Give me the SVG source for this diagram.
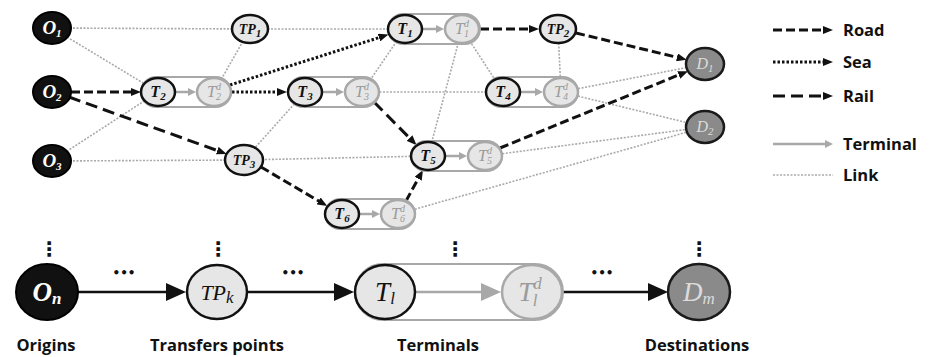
<svg xmlns="http://www.w3.org/2000/svg" width="931" height="357" viewBox="0 0 931 357">
  <style>
    .org { fill: #111; stroke: #000; stroke-width: 2; }
    .nd { fill: #e6e6e6; stroke: #111; stroke-width: 2.5; }
    .ndd { fill: #e6e6e6; stroke: #a8a8a8; stroke-width: 2.5; }
    .dst { fill: #8a8a8a; stroke: #1a1a1a; stroke-width: 2.5; }
    .box { fill: #fff; stroke: #a8a8a8; stroke-width: 2; }
    .lb { font-family: "Liberation Serif", serif; font-style: italic; font-weight: bold; font-size: 16px; fill: #111; text-anchor: middle; }
    .lbd { fill: #9a9a9a; font-weight: normal; }
    .lbw { fill: #fff; font-size: 19px; }
    .lbx { fill: #dcdcdc; font-weight: normal; }
    .tp { font-size: 14px; }
    .sb { font-size: 11px; }
    .sd { font-size: 10px; }
    .big { font-size: 27px; font-weight: normal; }
    .bigw { font-size: 27px; fill: #fff; }
    .tpk { font-size: 22px; font-weight: normal; }
    .bsb { font-size: 17px; }
    .cap { font-family: "Open Sans", "Liberation Sans", sans-serif; font-weight: bold; font-size: 16.5px; fill: #111; }
    .mid { text-anchor: middle; }
    .dots { font-family: "DejaVu Sans", sans-serif; font-weight: bold; fill: #111; text-anchor: middle; }
    .vd { font-size: 20px; }
    .hd { font-size: 12px; }
    .link { stroke: #aaa; stroke-width: 1.6; stroke-dasharray: 2 1.5; fill: none; }
    .road { stroke: #111; stroke-width: 3; stroke-dasharray: 9 4; fill: none; marker-end: url(#ah); }
    .rail { stroke: #111; stroke-width: 3; stroke-dasharray: 12 6; fill: none; marker-end: url(#ah); }
    .sea { stroke: #111; stroke-width: 3; stroke-dasharray: 2.5 2; fill: none; marker-end: url(#ah); }
    .term { stroke: #a8a8a8; stroke-width: 2.5; fill: none; marker-end: url(#ahg); }
    .flow { stroke: #111; stroke-width: 2.5; fill: none; marker-end: url(#ahb); }
    .flowg { stroke: #a8a8a8; stroke-width: 2.5; fill: none; marker-end: url(#ahbg); }
  </style>
  <defs>
    <marker id="ah" viewBox="0 0 10 8" refX="3" refY="4" markerWidth="10" markerHeight="8" markerUnits="userSpaceOnUse" orient="auto">
      <path d="M0,0L10,4L0,8z" fill="#111"/>
    </marker>
    <marker id="ahg" viewBox="0 0 8 8" refX="3" refY="4" markerWidth="8" markerHeight="8" markerUnits="userSpaceOnUse" orient="auto">
      <path d="M0,0L8,4L0,8z" fill="#a8a8a8"/>
    </marker>
    <marker id="ahb" viewBox="0 0 20 18" refX="3" refY="9" markerWidth="20" markerHeight="18" markerUnits="userSpaceOnUse" orient="auto">
      <path d="M0,0L20,9L0,18z" fill="#111"/>
    </marker>
    <marker id="ahbg" viewBox="0 0 20 18" refX="3" refY="9" markerWidth="20" markerHeight="18" markerUnits="userSpaceOnUse" orient="auto">
      <path d="M0,0L20,9L0,18z" fill="#a8a8a8"/>
    </marker>
  </defs>
  <rect width="931" height="357" fill="#fff"/>

  <!-- connectors -->
  <g id="connectors">
    <!-- plain links -->
    <line class="link" x1="52" y1="28" x2="250" y2="29"/>
    <line class="link" x1="250" y1="29" x2="405" y2="29"/>
    <line class="link" x1="52" y1="28" x2="158" y2="92"/>
    <line class="link" x1="52" y1="161" x2="158" y2="92"/>
    <line class="link" x1="52" y1="161" x2="244" y2="160"/>
    <line class="link" x1="244" y1="160" x2="428" y2="156"/>
    <line class="link" x1="250" y1="29" x2="214" y2="92"/>
    <line class="link" x1="244" y1="160" x2="305" y2="92"/>
    <line class="link" x1="362" y1="92" x2="405" y2="29"/>
    <line class="link" x1="362" y1="92" x2="503" y2="92"/>
    <line class="link" x1="462" y1="29" x2="503" y2="92"/>
    <line class="link" x1="462" y1="29" x2="428" y2="156"/>
    <line class="link" x1="558" y1="29" x2="561" y2="92"/>
    <line class="link" x1="561" y1="92" x2="705" y2="64"/>
    <line class="link" x1="561" y1="92" x2="705" y2="127"/>
    <line class="link" x1="485" y1="156" x2="705" y2="127"/>
    <line class="link" x1="398" y1="214" x2="705" y2="127"/>

    <!-- transport legs -->
    <line class="road" x1="71" y1="92" x2="134" y2="92"/>
    <line class="rail" x1="69" y1="97" x2="220.1" y2="151.6"/>
    <line class="road" x1="261" y1="167" x2="321.2" y2="202.5"/>
    <line class="road" x1="406" y1="201" x2="419.6" y2="176.1"/>
    <line class="rail" x1="374" y1="102" x2="411.7" y2="140.2"/>
    <line class="sea" x1="232" y1="92" x2="280" y2="92"/>
    <line class="sea" x1="230" y1="85" x2="381.8" y2="36.7"/>
    <line class="road" x1="480" y1="29" x2="532" y2="29"/>
    <line class="road" x1="576" y1="33" x2="679.9" y2="58"/>
    <line class="road" x1="500" y1="148" x2="681.5" y2="73.8"/>

    <!-- generic chain -->
    <line class="flow" x1="78" y1="292" x2="169" y2="292"/>
    <line class="flow" x1="248" y1="292" x2="337" y2="292"/>
    <line class="flow" x1="563" y1="292" x2="651" y2="292"/>
  </g>

  <!-- origins -->
  <g id="O1"><ellipse class="org" cx="52" cy="28" rx="19" ry="16"/><text class="lb lbw" x="52" y="34">O<tspan class="sb" dy="3">1</tspan></text></g>
  <g id="O2"><ellipse class="org" cx="52" cy="92" rx="19" ry="16"/><text class="lb lbw" x="52" y="98">O<tspan class="sb" dy="3">2</tspan></text></g>
  <g id="O3"><ellipse class="org" cx="52" cy="161" rx="19" ry="16"/><text class="lb lbw" x="52" y="167">O<tspan class="sb" dy="3">3</tspan></text></g>

  <!-- transfer points -->
  <g id="TP1"><ellipse class="nd" cx="250" cy="29" rx="18" ry="14"/><text class="lb tp" x="250" y="34">TP<tspan class="sb" dy="3">1</tspan></text></g>
  <g id="TP2"><ellipse class="nd" cx="558" cy="29" rx="18" ry="14"/><text class="lb tp" x="558" y="34">TP<tspan class="sb" dy="3">2</tspan></text></g>
  <g id="TP3"><ellipse class="nd" cx="244" cy="160" rx="19" ry="15"/><text class="lb tp" x="244" y="165">TP<tspan class="sb" dy="3">3</tspan></text></g>

  <!-- terminals -->
  <g id="T1">
    <rect class="box" x="388" y="14" width="92" height="30" rx="15"/>
    <line class="term" x1="423" y1="29" x2="439" y2="29"/>
    <ellipse class="nd" cx="405" cy="29" rx="17" ry="14"/><text class="lb" x="405" y="34">T<tspan class="sb" dy="3">1</tspan></text>
    <ellipse class="ndd" cx="462" cy="29" rx="17" ry="14"/><text class="lb lbd" x="462" y="34">T<tspan class="sd" dy="-7">d</tspan><tspan class="sd" dx="-5" dy="10">1</tspan></text>
  </g>
  <g id="T2">
    <rect class="box" x="141" y="77" width="90" height="30" rx="15"/>
    <line class="term" x1="176" y1="92" x2="191" y2="92"/>
    <ellipse class="nd" cx="158" cy="92" rx="17" ry="14"/><text class="lb" x="158" y="97">T<tspan class="sb" dy="3">2</tspan></text>
    <ellipse class="ndd" cx="214" cy="92" rx="17" ry="14"/><text class="lb lbd" x="214" y="97">T<tspan class="sd" dy="-7">d</tspan><tspan class="sd" dx="-5" dy="10">2</tspan></text>
  </g>
  <g id="T3">
    <rect class="box" x="288" y="77" width="91" height="30" rx="15"/>
    <line class="term" x1="323" y1="92" x2="339" y2="92"/>
    <ellipse class="nd" cx="305" cy="92" rx="17" ry="14"/><text class="lb" x="305" y="97">T<tspan class="sb" dy="3">3</tspan></text>
    <ellipse class="ndd" cx="362" cy="92" rx="17" ry="14"/><text class="lb lbd" x="362" y="97">T<tspan class="sd" dy="-7">d</tspan><tspan class="sd" dx="-5" dy="10">3</tspan></text>
  </g>
  <g id="T4">
    <rect class="box" x="486" y="77" width="92" height="30" rx="15"/>
    <line class="term" x1="521" y1="92" x2="538" y2="92"/>
    <ellipse class="nd" cx="503" cy="92" rx="17" ry="14"/><text class="lb" x="503" y="97">T<tspan class="sb" dy="3">4</tspan></text>
    <ellipse class="ndd" cx="561" cy="92" rx="17" ry="14"/><text class="lb lbd" x="561" y="97">T<tspan class="sd" dy="-7">d</tspan><tspan class="sd" dx="-5" dy="10">4</tspan></text>
  </g>
  <g id="T5">
    <rect class="box" x="411" y="141" width="91" height="30" rx="15"/>
    <line class="term" x1="446" y1="156" x2="462" y2="156"/>
    <ellipse class="nd" cx="428" cy="156" rx="17" ry="14"/><text class="lb" x="428" y="161">T<tspan class="sb" dy="3">5</tspan></text>
    <ellipse class="ndd" cx="485" cy="156" rx="17" ry="14"/><text class="lb lbd" x="485" y="161">T<tspan class="sd" dy="-7">d</tspan><tspan class="sd" dx="-5" dy="10">5</tspan></text>
  </g>
  <g id="T6">
    <rect class="box" x="325" y="199" width="90" height="30" rx="15"/>
    <line class="term" x1="360" y1="214" x2="375" y2="214"/>
    <ellipse class="nd" cx="342" cy="214" rx="17" ry="14"/><text class="lb" x="342" y="219">T<tspan class="sb" dy="3">6</tspan></text>
    <ellipse class="ndd" cx="398" cy="214" rx="17" ry="14"/><text class="lb lbd" x="398" y="219">T<tspan class="sd" dy="-7">d</tspan><tspan class="sd" dx="-5" dy="10">6</tspan></text>
  </g>

  <!-- destinations -->
  <g id="D1"><ellipse class="dst" cx="705" cy="64" rx="19" ry="16"/><text class="lb lbx" x="705" y="69">D<tspan class="sb" dy="3">1</tspan></text></g>
  <g id="D2"><ellipse class="dst" cx="705" cy="127" rx="19" ry="16"/><text class="lb lbx" x="705" y="132">D<tspan class="sb" dy="3">2</tspan></text></g>

  <!-- generic chain nodes -->
  <g id="On"><ellipse class="org" cx="47" cy="292" rx="31" ry="28"/><text class="lb bigw" x="47" y="301">O<tspan class="bsb" dy="3">n</tspan></text></g>
  <g id="TPk"><ellipse class="nd" cx="217" cy="292" rx="30" ry="27"/><text class="lb tpk" x="217" y="300">TP<tspan class="bsb" dy="3">k</tspan></text></g>
  <g id="Tl">
    <rect class="box" x="355" y="264" width="208" height="56" rx="28"/>
    <line class="flowg" x1="416" y1="292" x2="484" y2="292"/>
    <ellipse class="nd" cx="385" cy="292" rx="30" ry="27"/><text class="lb big" x="385" y="301">T<tspan class="bsb" dy="3">l</tspan></text>
    <ellipse class="ndd" cx="532" cy="292" rx="30" ry="27"/><text class="lb lbd big" x="530" y="301">T<tspan class="bsb" dy="-12">d</tspan><tspan class="bsb" dx="-9" dy="17">l</tspan></text>
  </g>
  <g id="Dm"><ellipse class="dst" cx="699" cy="292" rx="31" ry="28"/><text class="lb lbx big" x="699" y="301">D<tspan class="bsb" dy="3">m</tspan></text></g>

  <!-- continuation marks -->
  <g id="ellipses">
    <text class="dots vd" x="49" y="256">⋮</text>
    <text class="dots vd" x="218" y="256">⋮</text>
    <text class="dots vd" x="455" y="256">⋮</text>
    <text class="dots vd" x="699" y="256">⋮</text>
    <text class="dots hd" x="124" y="277">•••</text>
    <text class="dots hd" x="293" y="277">•••</text>
    <text class="dots hd" x="602" y="277">•••</text>
  </g>

  <!-- column captions -->
  <g id="captions">
    <text class="cap mid" x="46" y="351">Origins</text>
    <text class="cap mid" x="217" y="351">Transfers points</text>
    <text class="cap mid" x="438" y="351">Terminals</text>
    <text class="cap mid" x="697" y="351">Destinations</text>
  </g>

  <!-- legend -->
  <g id="legend">
    <line class="road" x1="773" y1="30" x2="826" y2="30"/>
    <text class="cap" x="843" y="36">Road</text>
    <line class="sea" x1="773" y1="62" x2="826" y2="62"/>
    <text class="cap" x="843" y="68">Sea</text>
    <line class="rail" x1="773" y1="96" x2="826" y2="96"/>
    <text class="cap" x="843" y="102">Rail</text>
    <line class="term" x1="773" y1="144" x2="828" y2="144"/>
    <text class="cap" x="843" y="150">Terminal</text>
    <line class="link" x1="773" y1="175" x2="833" y2="175"/>
    <text class="cap" x="843" y="181">Link</text>
  </g>
</svg>
